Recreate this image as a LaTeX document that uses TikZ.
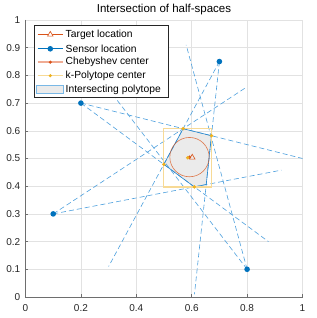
\documentclass[tikz,border=0pt]{standalone}
\usepackage{fontspec}
\setmainfont{Liberation Sans}
\definecolor{mblue}{rgb}{0,0.447,0.741}
\definecolor{dblue}{RGB}{77,160,222}
\definecolor{eblue}{RGB}{40,135,205}
\definecolor{morange}{rgb}{0.85,0.325,0.098}
\definecolor{myellow}{rgb}{0.929,0.694,0.125}
\definecolor{paleyellow}{RGB}{247,218,150}
\definecolor{palesalmon}{RGB}{240,172,148}
\definecolor{gridc}{RGB}{226,226,226}
\definecolor{axc}{RGB}{110,110,110}
\definecolor{txtc}{RGB}{38,38,38}
\tikzset{
  gridline/.style={gridc, line width=0.5pt},
  bearing/.style={dblue, line width=0.6pt, dash pattern=on 5pt off 3pt},
  sensordot/.style={fill=mblue, draw=none},
  ydot/.style={fill=myellow, draw=none},
  odot/.style={fill=morange, draw=none},
  ticklab/.style={text=txtc, font=\fontsize{10}{12}\selectfont, inner sep=0pt},
  leglab/.style={text=black, font=\fontsize{10.3}{12}\selectfont, inner sep=0pt, anchor=west},
}
\begin{document}
\begin{tikzpicture}
\useasboundingbox (0,0) rectangle (316pt,318pt);
\fill[white] (0,0) rectangle (316pt,318pt);
\begin{scope}[shift={(25.5pt,21pt)}, x=277pt, y=277pt]
  % grid
  \foreach \v in {0.2,0.4,0.6,0.8,1} \draw[gridline] (\v,0) -- (\v,1);
  \foreach \v in {0.1,0.2,...,1.0} \draw[gridline] (0,\v) -- (1,\v);
  % coordinates
  \coordinate (S1) at (0.2,0.7);
  \coordinate (S2) at (0.7,0.85);
  \coordinate (S3) at (0.1,0.3);
  \coordinate (S4) at (0.8,0.1);
  \coordinate (E1a) at (1.0,0.5);
  \coordinate (E1b) at (0.877,0.2);
  \coordinate (E2a) at (0.3,0.11);
  \coordinate (E2b) at (0.61,0.01);
  \coordinate (E3a) at (0.797,0.757);
  \coordinate (E3b) at (0.924,0.458);
  \coordinate (E4a) at (0.58,0.91);
  \coordinate (E4b) at (0.288,0.766);
  \coordinate (P1) at (0.569,0.6077);
  \coordinate (P2) at (0.6713,0.5822);
  \coordinate (P3) at (0.6524,0.406);
  \coordinate (P4) at (0.6094,0.3976);
  \coordinate (P5) at (0.4994,0.4789);
  \coordinate (KC) at (0.5854,0.5027);
  \coordinate (CC) at (0.592,0.505);
  \coordinate (TG) at (0.602,0.504);
  % polytope
  \fill[gray!16] (P1) -- (P2) -- (P3) -- (P4) -- (P5) -- cycle;
  % bearing lines
  \draw[bearing] (S1) -- (E1a);
  \draw[bearing] (S1) -- (E1b);
  \draw[bearing] (S2) -- (E2a);
  \draw[bearing] (S2) -- (E2b);
  \draw[bearing] (S3) -- (E3a);
  \draw[bearing] (S3) -- (E3b);
  \draw[bearing] (S4) -- (E4a);
  \draw[bearing] (S4) -- (E4b);
  \draw[eblue, line width=0.6pt] (P1) -- (P2) -- (P3) -- (P4) -- (P5) -- cycle;
  % bounding box
  \draw[paleyellow, line width=1.3pt] (P5 |- P4) rectangle (P2 |- P1);
  % chebyshev circle
  \draw[morange, opacity=0.75, line width=0.6pt] (CC) circle[radius=0.071];
  % markers
  \foreach \s in {S1,S2,S3,S4} \fill[sensordot] (\s) circle[radius=2.8pt];
  \fill[odot] (CC) circle[radius=1.7pt];
  \foreach \p in {P1,P2,P4,P5,KC} \fill[ydot] (\p) circle[radius=1.9pt];
  \draw[morange, line width=0.6pt, line join=miter] (TG) ++(0,3.1pt) -- ++(-2.8pt,-4.8pt) -- ++(5.6pt,0) -- cycle;
  % axes
  \draw[axc, line width=0.6pt] (0,1) -- (0,0) -- (1,0);
  \foreach \v in {0,0.2,0.4,0.6,0.8,1} \draw[axc, line width=0.5pt] (\v,0) -- ++(0,2.5pt);
  \foreach \v in {0,0.1,...,1.0} \draw[axc, line width=0.5pt] (0,\v) -- ++(2.5pt,0);
  \foreach \v/\l in {0/0,0.2/0.2,0.4/0.4,0.6/0.6,0.8/0.8,1/1}
    \node[ticklab] (xl\l) at (\v,-0.04) {\l};
  \foreach \v/\l in {0/0,0.1/0.1,0.2/0.2,0.3/0.3,0.4/0.4,0.5/0.5,0.6/0.6,0.7/0.7,0.8/0.8,0.9/0.9,1/1}
    \node[ticklab, anchor=east] (yl\l) at (-5pt,\v) {\l};
\end{scope}
% title
\node[text=black, font=\fontsize{11.5}{13}\selectfont, inner sep=0pt] (title) at (164pt,308pt) {Intersection of half-spaces};
% legend
\draw[fill=white, draw=txtc, line width=0.5pt] (34pt,221pt) rectangle (168pt,293pt);
\draw[morange, line width=0.6pt] (37.5pt,283.5pt) -- (63pt,283.5pt);
\draw[morange, line width=0.6pt, fill=white] (50.3pt,286.6pt) -- ++(-2.8pt,-4.8pt) -- ++(5.6pt,0) -- cycle;
\node[leglab] (l1) at (65.5pt,283.5pt) {Target location};
\draw[mblue, line width=0.6pt] (37.5pt,269.2pt) -- (63pt,269.2pt);
\fill[sensordot] (50.3pt,269.2pt) circle[radius=2.8pt];
\node[leglab] (l2) at (65.5pt,269.2pt) {Sensor location};
\draw[palesalmon, line width=1.5pt] (37.5pt,255.8pt) -- (63pt,255.8pt);
\fill[odot] (50.3pt,255.8pt) circle[radius=1.7pt];
\node[leglab] (l3) at (65.5pt,255.8pt) {Chebyshev center};
\draw[paleyellow, line width=0.8pt] (37.5pt,242.3pt) -- (63pt,242.3pt);
\fill[ydot] (50.3pt,242.3pt) circle[radius=1.7pt];
\node[leglab] (l4) at (65.5pt,242.3pt) {k-Polytope center};
\draw[fill=gray!16, draw=dblue!75, line width=0.8pt] (36.7pt,224.3pt) rectangle (63.3pt,232.7pt);
\node[leglab] (l5) at (65.5pt,228.5pt) {Intersecting polytope};
\end{tikzpicture}
\end{document}
